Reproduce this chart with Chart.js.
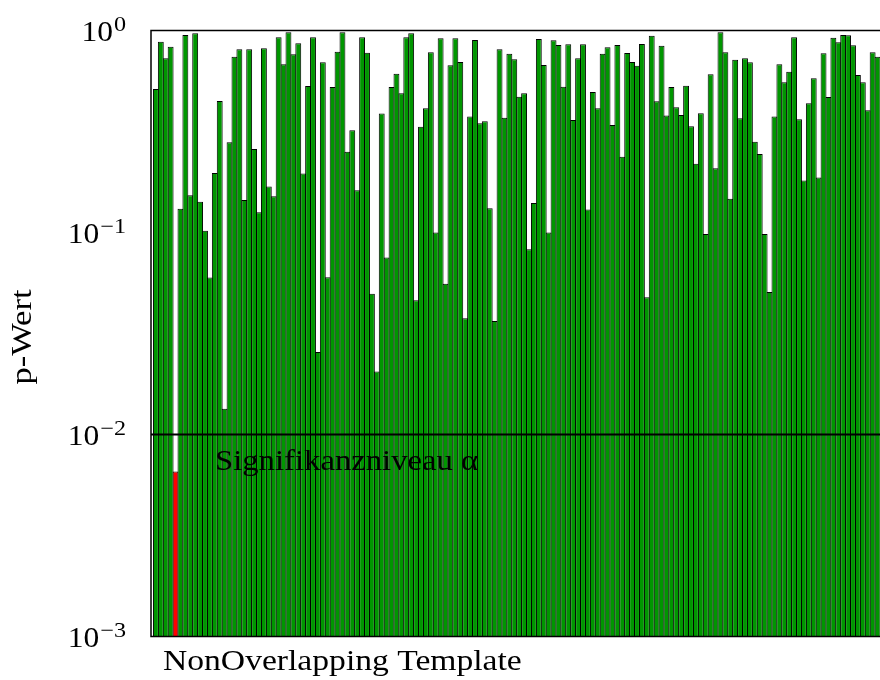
<!DOCTYPE html>
<html>
<head>
<meta charset="utf-8">
<script src="https://cdn.jsdelivr.net/npm/chart.js@4.4.1/dist/chart.umd.min.js"></script>
<style>
  html, body { margin: 0; padding: 0; background: #fff; overflow: hidden; }
  #wrap { width: 880px; height: 680px; }
</style>
</head>
<body>
<div id="wrap"><canvas id="pChart" width="880" height="680"></canvas></div>
<script>
// p-values of the 148 NonOverlapping Template tests
const pValues = [
  0.513, 0.880, 0.729, 0.831, 0.00656, 0.131, 0.950, 0.153, 0.968, 0.142,
  0.102, 0.0598, 0.197, 0.448, 0.0134, 0.280, 0.742, 0.807, 0.145, 0.807,
  0.259, 0.126, 0.816, 0.169, 0.151, 0.925, 0.680, 0.980, 0.762, 0.864,
  0.196, 0.531, 0.925, 0.0256, 0.696, 0.0601, 0.525, 0.785, 0.980, 0.251,
  0.321, 0.162, 0.925, 0.776, 0.0498, 0.0205, 0.388, 0.0751, 0.525, 0.611,
  0.489, 0.925, 0.968, 0.0462, 0.334, 0.412, 0.780, 0.100, 0.915, 0.0558,
  0.673, 0.915, 0.698, 0.0376, 0.375, 0.897, 0.347, 0.355, 0.132, 0.0365,
  0.807, 0.370, 0.768, 0.720, 0.470, 0.489, 0.0826, 0.140, 0.908, 0.675,
  0.100, 0.894, 0.848, 0.527, 0.855, 0.361, 0.729, 0.855, 0.130, 0.496,
  0.412, 0.768, 0.826, 0.341, 0.848, 0.237, 0.774, 0.698, 0.669, 0.857,
  0.0478, 0.943, 0.446, 0.841, 0.379, 0.525, 0.417, 0.382, 0.533, 0.336,
  0.219, 0.389, 0.0984, 0.607, 0.208, 0.980, 0.780, 0.147, 0.717, 0.368,
  0.729, 0.696, 0.281, 0.245, 0.0984, 0.0508, 0.375, 0.680, 0.554, 0.625,
  0.925, 0.364, 0.181, 0.436, 0.580, 0.187, 0.771, 0.469, 0.921, 0.874,
  0.950, 0.947, 0.845, 0.602, 0.554, 0.403, 0.780, 0.742
];
const templates = pValues.map((_, i) => i + 1);
const alpha = 0.01;
const tickExps = [0, -1, -2, -3];

const alphaLabel = 'Signifikanzniveau \u03b1';
const yTitle = 'p-Wert';
const xTitle = 'NonOverlapping Template';

const FONT = '"Liberation Serif", "DejaVu Serif", serif';
const GREEN = '#009600';
const RED = '#ff0000';
const STRETCH = 1.12; // the original uses a wider (TeX) face

const barColors = pValues.map(p => p < alpha ? RED : GREEN);

// draw text stretched horizontally, left/right/center anchored at x
function wideText(ctx, txt, x, y, align, sx) {
  const w = ctx.measureText(txt).width * sx;
  let x0 = x;
  if (align === 'right') x0 = x - w;
  else if (align === 'center') x0 = x - w / 2;
  ctx.save();
  ctx.textAlign = 'left';
  ctx.translate(x0, y);
  ctx.scale(sx, 1);
  ctx.fillText(txt, 0, 0);
  ctx.restore();
  return w;
}

const decorPlugin = {
  id: 'decor',
  afterDatasetsDraw(chart) {
    const { ctx, chartArea: a, scales: { y } } = chart;
    ctx.save();

    // plot frame (top, left, bottom)
    ctx.strokeStyle = '#000';
    ctx.lineWidth = 1.5;
    ctx.beginPath();
    ctx.moveTo(a.right, a.top);
    ctx.lineTo(a.left, a.top);
    ctx.lineTo(a.left, a.bottom);
    ctx.lineTo(a.right, a.bottom);
    ctx.stroke();

    // significance level
    const ya = y.getPixelForValue(alpha);
    ctx.lineWidth = 2;
    ctx.beginPath();
    ctx.moveTo(a.left, ya);
    ctx.lineTo(a.right, ya);
    ctx.stroke();

    ctx.fillStyle = '#000';
    ctx.textBaseline = 'alphabetic';
    ctx.font = '30px ' + FONT;
    wideText(ctx, alphaLabel, 215, ya + 35, 'left', 1.09);

    // y tick labels 10^n
    tickExps.forEach(e => {
      const py = y.getPixelForValue(Math.pow(10, e));
      const expTxt = e === 0 ? '0' : '\u2212' + Math.abs(e);
      ctx.font = '21px ' + FONT;
      const wExp = wideText(ctx, expTxt, 126, py, 'right', 1.15);
      ctx.font = '30px ' + FONT;
      wideText(ctx, '10', 126 - wExp - 1, py + 10.5, 'right', 1.05);
    });

    // axis titles
    ctx.font = '30px ' + FONT;
    wideText(ctx, xTitle, 163, 670, 'left', STRETCH);

    ctx.translate(31, 337);
    ctx.rotate(-Math.PI / 2);
    wideText(ctx, yTitle, 0, 0, 'center', 1.15);

    ctx.restore();
  }
};

new Chart(document.getElementById('pChart'), {
  type: 'bar',
  data: {
    labels: templates,
    datasets: [{
      data: templates.map((t, i) => ({ x: t, y: pValues[i] })),
      backgroundColor: barColors,
      borderColor: '#000',
      borderWidth: 1,
      barPercentage: 1.2,
      categoryPercentage: 1.0
    }]
  },
  options: {
    responsive: false,
    animation: false,
    layout: { padding: { left: 151, top: 30.5, right: 0, bottom: 43.5 } },
    plugins: { legend: { display: false }, tooltip: { enabled: false } },
    scales: {
      x: { type: 'linear', min: 0, max: 148.5, offset: false, display: false },
      y: { type: 'logarithmic', min: 0.001, max: 1, display: false }
    }
  },
  plugins: [decorPlugin]
});
</script>
</body>
</html>
